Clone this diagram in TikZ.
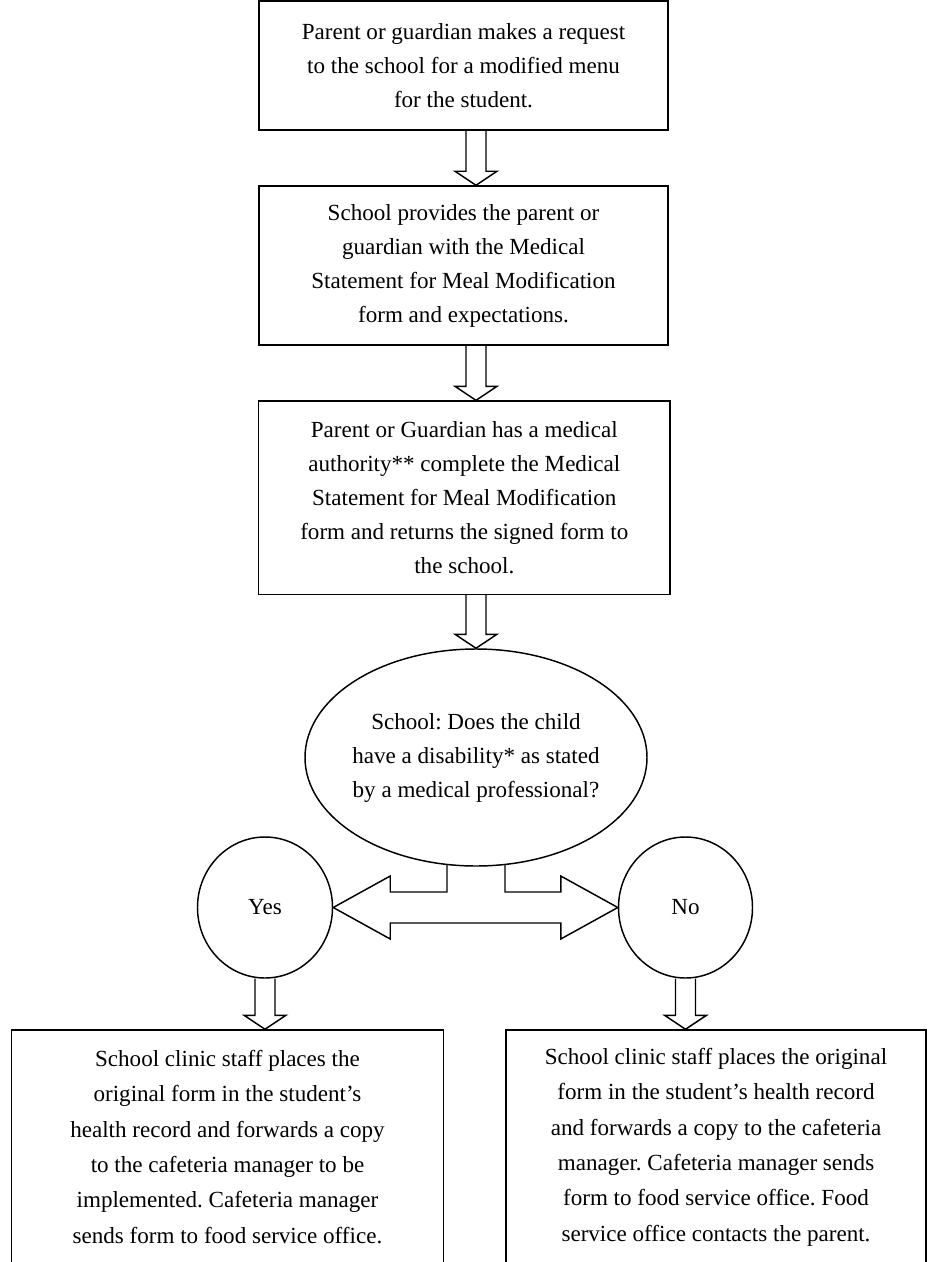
\documentclass[tikz,border=0pt]{standalone}
\usepackage{fontspec}
\setmainfont{Liberation Serif}
\usetikzlibrary{calc,shapes.geometric}
\frenchspacing

\newcommand{\downblock}[2]{%
  \draw ($(#1)+(-10,0)$) -- ($(#2)+(-10,-14)$) -- ($(#2)+(-21,-14)$) -- (#2)
    -- ($(#2)+(21,-14)$) -- ($(#2)+(10,-14)$) -- ($(#1)+(10,0)$);}

\begin{document}
\begin{tikzpicture}[x=0.75pt,y=-0.75pt,line join=miter,line width=1.1pt,
    txt/.style={font=\fontsize{17.3}{25.5}\selectfont,align=center,inner sep=0pt},
    box/.style={draw,rectangle,txt},
    oval/.style={draw,ellipse,txt,inner xsep=-6pt}]
  \useasboundingbox (0,0) rectangle (927,1262);
  \coordinate (axis) at (476,0);

  \node[box,minimum width=409*0.75pt,minimum height=129*0.75pt] (request) at (463.5,65.5)
    {Parent or guardian makes a request\\to the school for a modified menu\\for the student.};
  \node[box,minimum width=409*0.75pt,minimum height=159*0.75pt] (provide) at (463.5,265.5)
    {School provides the parent or\\guardian with the Medical\\Statement for Meal Modification\\form and expectations.};
  \node[box,minimum width=411.5*0.75pt,minimum height=193.3*0.75pt] (complete) at (464.3,497.7)
    {Parent or Guardian has a medical\\authority** complete the Medical\\Statement for Meal Modification\\form and returns the signed form to\\the school.};
  \node[oval,minimum width=342*0.75pt,minimum height=217*0.75pt] (decide) at (476,757.5)
    {School: Does the child\\have a disability* as stated\\by a medical professional?};
  \node[oval,minimum width=135*0.75pt,minimum height=141*0.75pt] (yes) at (265,907.5) {Yes};
  \node[oval,minimum width=134*0.75pt,minimum height=141*0.75pt] (no) at (685.5,907.5) {No};
  \node[box,font=\fontsize{17.3}{26.5}\selectfont,minimum width=431.6*0.75pt,minimum height=234*0.75pt] (clinicyes) at (227.5,1147)
    {School clinic staff places the\\original form in the student's\\health record and forwards a copy\\to the cafeteria manager to be\\implemented. Cafeteria manager\\sends form to food service office.};
  \node[box,font=\fontsize{17.3}{26.5}\selectfont,minimum width=420*0.75pt,minimum height=234*0.75pt] (clinicno) at (716,1147)
    {School clinic staff places the original\\form in the student's health record\\and forwards a copy to the cafeteria\\manager. Cafeteria manager sends\\form to food service office. Food\\service office contacts the parent.};

  \downblock{request.south -| axis}{provide.north -| axis}
  \downblock{provide.south -| axis}{complete.north -| axis}
  \downblock{complete.south -| axis}{decide.north}
  \downblock{yes.south}{clinicyes.north -| yes.south}
  \downblock{no.south}{clinicno.north -| no.south}

  \draw ($(decide.south)+(-29,-1.6)$) |- ($(yes.east)+(57,-15.5)$) -- ++(0,-16) -- (yes.east)
    -- ($(yes.east)+(57,31.5)$) -- ++(0,-16) -- ($(no.west)+(-57,15.5)$) -- ++(0,16) -- (no.west)
    -- ($(no.west)+(-57,-31.5)$) -- ++(0,16) -| ($(decide.south)+(29,-1.6)$);
\end{tikzpicture}
\end{document}
